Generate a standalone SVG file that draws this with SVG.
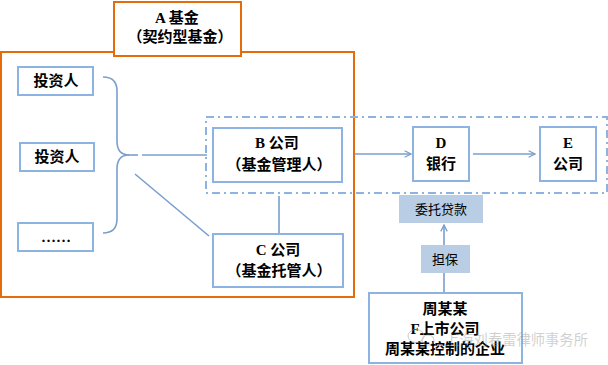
<svg xmlns="http://www.w3.org/2000/svg" width="608" height="365" viewBox="0 0 608 365">
<style>
.box{fill:#fff;stroke:#8DB3E2;stroke-width:2}
.lab{fill:#B9CDE5;stroke:none}
.org{fill:#fff;stroke:#E46C0A;stroke-width:2}
.ln{fill:none;stroke:#7A9FCC;stroke-width:1.6}
.dd{fill:none;stroke:#8DB3E2;stroke-width:2;stroke-dasharray:8 4 2 4}
text{font-family:"Liberation Serif","Noto Sans CJK SC",serif;font-size:15px;font-weight:bold;fill:#000;text-anchor:middle;dominant-baseline:central}
.sm{font-size:13px;font-weight:normal}
.wm{font-family:"Noto Sans CJK SC",sans-serif;font-size:14.3px;font-weight:normal;fill:#999;fill-opacity:0.75;text-anchor:start}
</style>
<defs>
<marker id="arr" viewBox="0 0 10 10" refX="9" refY="5" markerWidth="8" markerHeight="8" markerUnits="userSpaceOnUse" orient="auto">
<path d="M1,1 L9,5 L1,9" fill="none" stroke="#7A9FCC" stroke-width="1.6"/>
</marker>
</defs>
<g id="fund-frame"><rect class="org" x="1" y="52" width="353" height="245"/></g>
<g id="connectors">
<path class="ln" d="M103,77 Q117,77 117,91 L117,141 Q117,155 129,155 Q117,155 117,169 L117,219 Q117,233 103,233"/>
<line class="ln" x1="128" y1="155" x2="138" y2="155"/>
<line class="ln" x1="142" y1="155" x2="207" y2="155"/>
<line class="ln" x1="135" y1="174" x2="209" y2="236"/>
<line class="ln" x1="279" y1="196" x2="279" y2="233"/>
<line class="ln" x1="355" y1="154" x2="411" y2="154" marker-end="url(#arr)"/>
<line class="ln" x1="473" y1="154" x2="535" y2="154" marker-end="url(#arr)"/>
<line class="ln" x1="444" y1="292" x2="444" y2="225" marker-end="url(#arr)"/>
</g>
<g id="group-bde"><rect class="dd" x="206" y="117" width="401" height="76"/></g>
<g id="A"><rect class="org" x="114" y="2" width="127" height="54"/><text x="177" y="18">A 基金</text><text x="180" y="37">（契约型基金）</text></g>
<g id="investor1"><rect class="box" x="18" y="67" width="75" height="28"/><text x="56" y="81">投资人</text></g>
<g id="investor2"><rect class="box" x="20" y="143" width="74" height="28"/><text x="57" y="157">投资人</text></g>
<g id="investor3"><rect class="box" x="18" y="223" width="75" height="28"/><text x="56" y="237">……</text></g>
<g id="B"><rect class="box" x="213" y="128" width="129" height="54"/><text x="277" y="143">B 公司</text><text x="279" y="165">（基金管理人）</text></g>
<g id="C"><rect class="box" x="213" y="234" width="130" height="53"/><text x="278" y="250">C 公司</text><text x="279" y="271">（基金托管人）</text></g>
<g id="D"><rect class="box" x="413" y="127" width="56" height="54"/><text x="441" y="143">D</text><text x="441" y="164">银行</text></g>
<g id="E"><rect class="box" x="540" y="127" width="56" height="54"/><text x="568" y="143">E</text><text x="568" y="164">公司</text></g>
<g id="loan"><rect class="lab" x="399" y="195" width="84" height="28"/><text class="sm" x="441" y="209">委托贷款</text></g>
<g id="guarantee"><rect class="lab" x="421" y="245" width="49" height="28"/><text class="sm" x="445" y="259">担保</text></g>
<g id="zhou"><rect class="box" x="369" y="293" width="153" height="70"/><text x="445" y="309">周某某</text><text x="445" y="329">F上市公司</text><text x="445" y="349">周某某控制的企业</text></g>
<g id="watermark" opacity="0.6">
<ellipse cx="416" cy="336" rx="8" ry="6.5" fill="none" stroke="#aaa" stroke-width="1"/>
<ellipse cx="428" cy="340" rx="6" ry="5" fill="none" stroke="#aaa" stroke-width="1"/>
<text class="wm" x="445" y="338">上海刘春雷律师事务所</text>
</g>
</svg>
